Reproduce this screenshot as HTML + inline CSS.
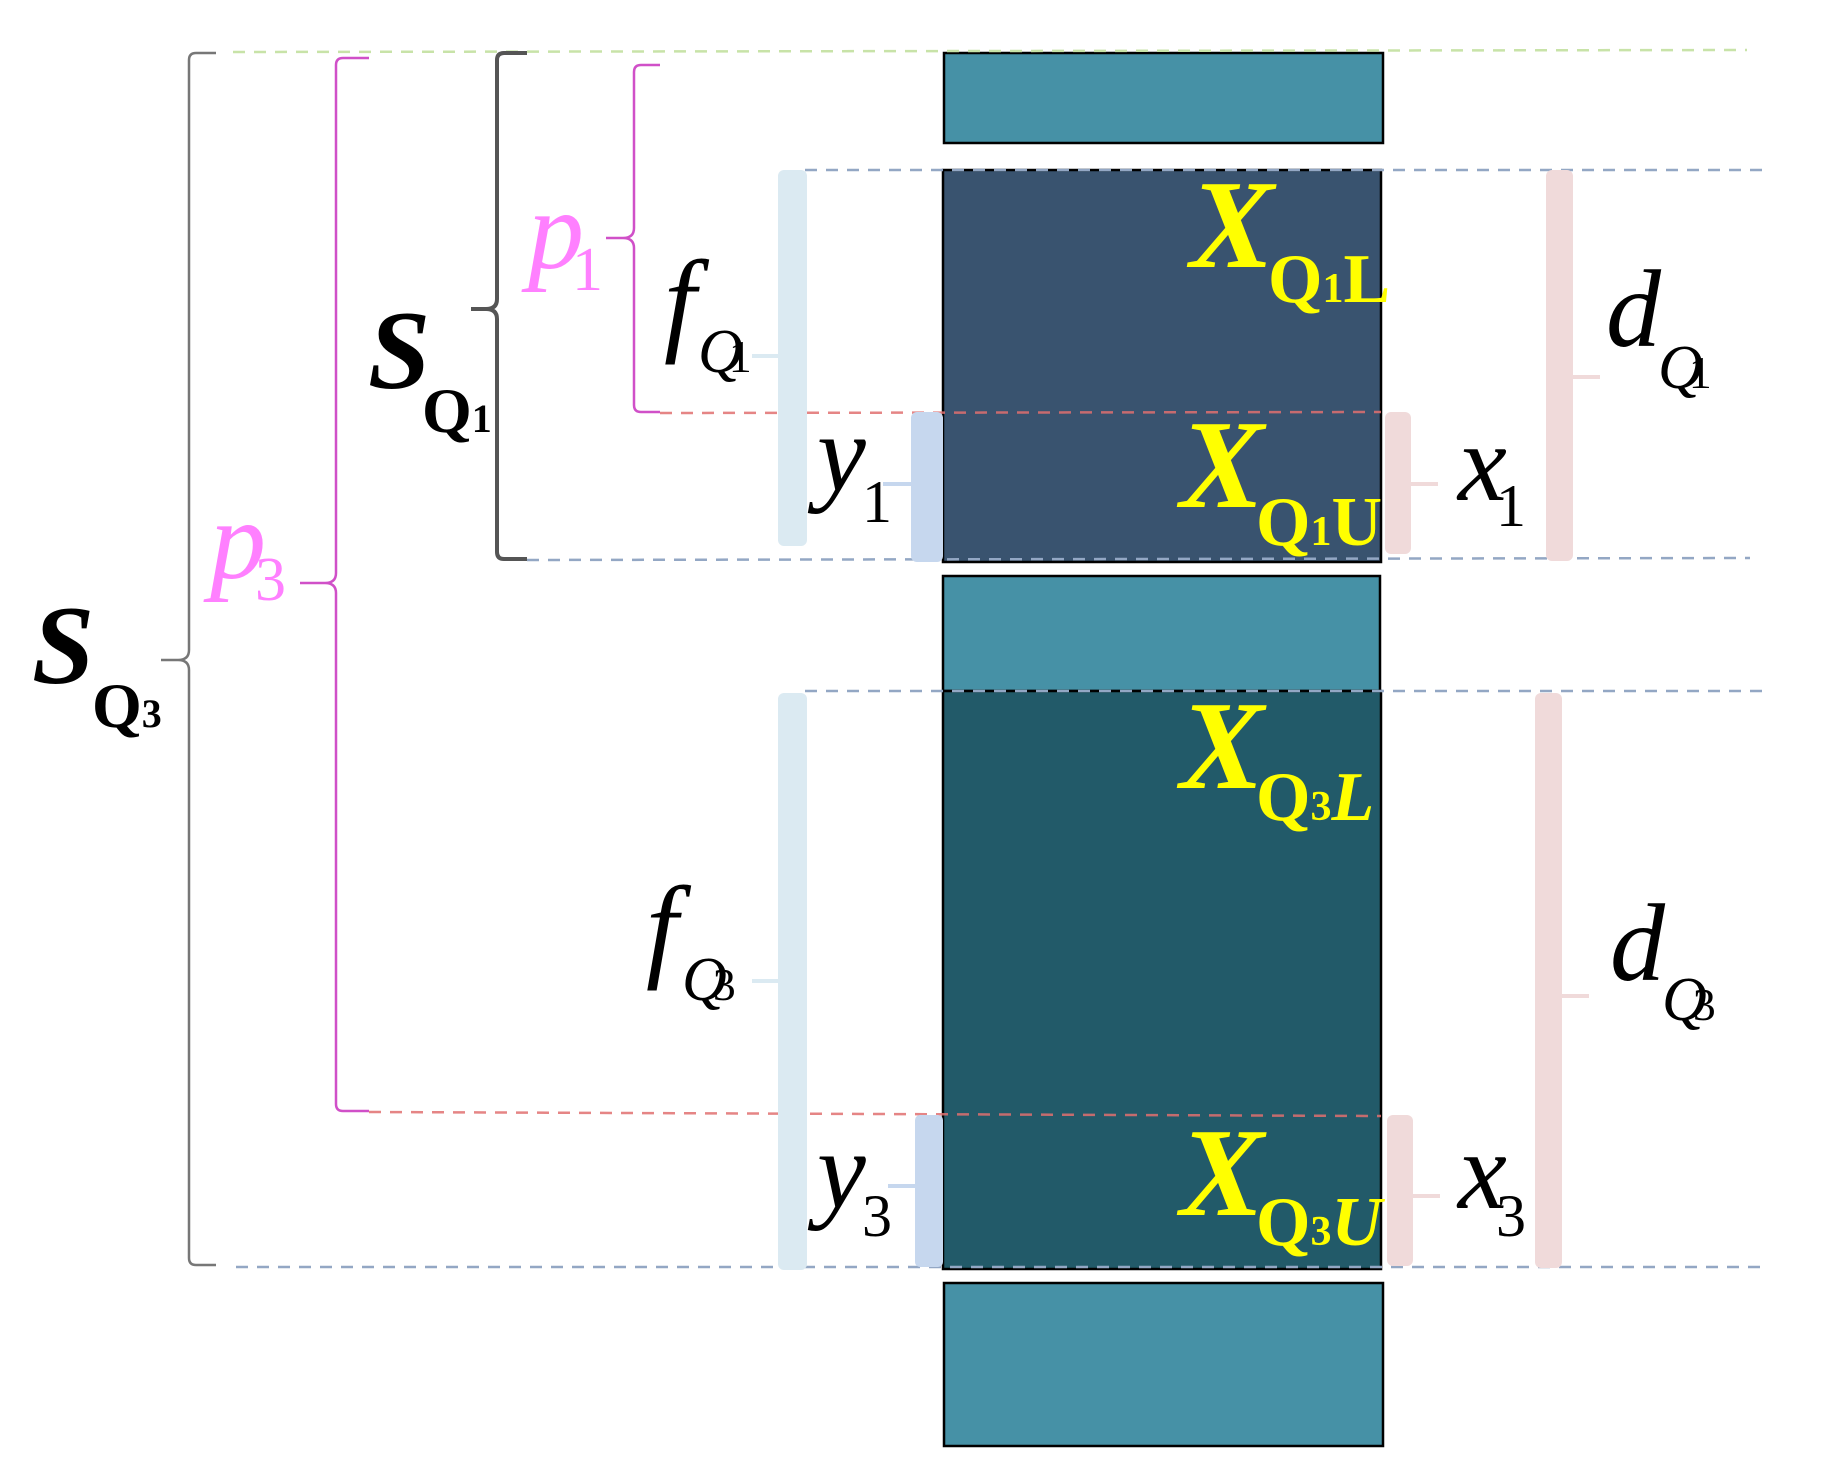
<!DOCTYPE html>
<html><head><meta charset="utf-8"><style>
html,body{margin:0;padding:0;background:#fff;}
svg{display:block;font-family:"Liberation Serif","Times New Roman",serif;}
svg text{font-family:"Liberation Serif","Times New Roman",serif;}
</style></head><body>
<svg width="1848" height="1474" viewBox="0 0 1848 1474" xmlns="http://www.w3.org/2000/svg" font-family="Liberation Serif, serif">
<rect x="944" y="53" width="439" height="90" fill="#4691a6" stroke="#000" stroke-width="2.5"/>
<rect x="943" y="170" width="438" height="392" fill="#39536f" stroke="#000" stroke-width="2.5"/>
<rect x="943" y="576" width="437" height="115" fill="#4691a6" stroke="#000" stroke-width="2.5"/>
<rect x="943" y="691" width="438" height="578" fill="#225a69" stroke="#000" stroke-width="2.5"/>
<rect x="944" y="1283" width="439" height="163" fill="#4691a6" stroke="#000" stroke-width="2.5"/>

<g fill="none" stroke-width="2.5" stroke-dasharray="12,9">
<line x1="233" y1="52" x2="1747" y2="50" stroke="#c8e3a8"/>
<line x1="805" y1="170" x2="1764" y2="170" stroke="#93a7c4"/>
<line x1="527" y1="560" x2="1750" y2="558" stroke="#93a7c4"/>
<line x1="805" y1="691" x2="1764" y2="691" stroke="#93a7c4"/>
<line x1="236" y1="1267" x2="1764" y2="1267" stroke="#93a7c4"/>
<line x1="660" y1="413" x2="1381" y2="412" stroke="#e07070" opacity="0.85"/>
<line x1="369" y1="1112" x2="1381" y2="1116" stroke="#e07070" opacity="0.85"/>
</g>

<g fill="none">
<path d="M216,53 H196 Q189,53 189,60 V650 Q189,660 178,660 H161 M178,660 Q189,660 189,670 V1258 Q189,1265 196,1265 H216" stroke="#777" stroke-width="2.5"/>
<path d="M369,58 H343 Q336,58 336,65 V573 Q336,583 325,583 H300 M325,583 Q336,583 336,593 V1104 Q336,1111 343,1111 H369" stroke="#d050c8" stroke-width="2.5"/>
<path d="M527,53 H504 Q497,53 497,60 V299 Q497,309 486,309 H471 M486,309 Q497,309 497,319 V552 Q497,559 504,559 H527" stroke="#555" stroke-width="4"/>
<path d="M660,65 H641 Q634,65 634,72 V228 Q634,238 623,238 H606 M623,238 Q634,238 634,248 V405 Q634,412 641,412 H660" stroke="#d050c8" stroke-width="2.5"/>
</g>

<g>
<rect x="778" y="170" width="29" height="376" rx="6" fill="#dbeaf2"/>
<path d="M752,356 H782" stroke="#dbeaf2" stroke-width="4"/>
<rect x="911" y="412" width="32" height="150" rx="6" fill="#c6d7ee"/>
<path d="M883,484 H915" stroke="#c6d7ee" stroke-width="4"/>
<rect x="778" y="693" width="29" height="577" rx="6" fill="#dbeaf2"/>
<path d="M752,981 H782" stroke="#dbeaf2" stroke-width="4"/>
<rect x="915" y="1115" width="28" height="152" rx="5" fill="#c6d7ee"/>
<path d="M888,1186 H918" stroke="#c6d7ee" stroke-width="4"/>
<rect x="1385" y="412" width="26" height="142" rx="6" fill="#f0dada"/>
<path d="M1408,484 H1438" stroke="#f0dada" stroke-width="4"/>
<rect x="1546" y="170" width="27" height="391" rx="6" fill="#f0dada"/>
<path d="M1570,377 H1600" stroke="#f0dada" stroke-width="4"/>
<rect x="1387" y="1115" width="26" height="151" rx="6" fill="#f0dada"/>
<path d="M1410,1196 H1440" stroke="#f0dada" stroke-width="4"/>
<rect x="1535" y="693" width="27" height="575" rx="6" fill="#f0dada"/>
<path d="M1559,996 H1589" stroke="#f0dada" stroke-width="4"/>
</g>

<g fill="#000">
<text x="32" y="683" font-size="112" font-style="italic" font-weight="bold">S</text>
<text x="92" y="727" font-size="64" font-weight="bold">Q<tspan font-size="40">3</tspan></text>
<text x="368" y="388" font-size="112" font-style="italic" font-weight="bold">S</text>
<text x="422" y="432" font-size="64" font-weight="bold">Q<tspan font-size="40">1</tspan></text>

<text x="664" y="340" font-size="115" font-style="italic">f</text>
<text x="698" y="372" font-size="62" font-style="italic">Q<tspan font-style="normal" font-size="46" dx="-14">1</tspan></text>
<text x="646" y="966" font-size="115" font-style="italic">f</text>
<text x="682" y="1000" font-size="62" font-style="italic">Q<tspan font-style="normal" font-size="46" dx="-14">3</tspan></text>

<text x="817" y="490" font-size="110" font-style="italic">y</text>
<text x="862" y="522" font-size="60">1</text>
<text x="817" y="1207" font-size="110" font-style="italic">y</text>
<text x="862" y="1236" font-size="60">3</text>

<text x="1458" y="500" font-size="110" font-style="italic">x</text>
<text x="1496" y="526" font-size="60">1</text>
<text x="1458" y="1208" font-size="110" font-style="italic">x</text>
<text x="1496" y="1236" font-size="60">3</text>

<text x="1606" y="346" font-size="110" font-style="italic">d</text>
<text x="1658" y="388" font-size="62" font-style="italic">Q<tspan font-style="normal" font-size="46" dx="-14">1</tspan></text>
<text x="1610" y="980" font-size="110" font-style="italic">d</text>
<text x="1662" y="1020" font-size="62" font-style="italic">Q<tspan font-style="normal" font-size="46" dx="-14">3</tspan></text>
</g>

<g fill="#ff80ff">
<text x="210" y="578" font-size="112" font-style="italic">p</text>
<text x="255" y="600" font-size="62">3</text>
<text x="528" y="268" font-size="112" font-style="italic">p</text>
<text x="572" y="290" font-size="62">1</text>
</g>

<g fill="#ffff00" font-weight="bold">
<text x="1190" y="267" font-size="126" font-style="italic">X</text>
<text x="1268" y="302" font-size="70">Q<tspan font-size="42">1</tspan>L</text>
<text x="1180" y="507" font-size="126" font-style="italic">X</text>
<text x="1256" y="545" font-size="70">Q<tspan font-size="42">1</tspan>U</text>
<text x="1180" y="788" font-size="126" font-style="italic">X</text>
<text x="1256" y="820" font-size="70">Q<tspan font-size="42">3</tspan><tspan font-style="italic">L</tspan></text>
<text x="1180" y="1215" font-size="126" font-style="italic">X</text>
<text x="1256" y="1245" font-size="70">Q<tspan font-size="42">3</tspan><tspan font-style="italic">U</tspan></text>
</g>
</svg>
</body></html>
